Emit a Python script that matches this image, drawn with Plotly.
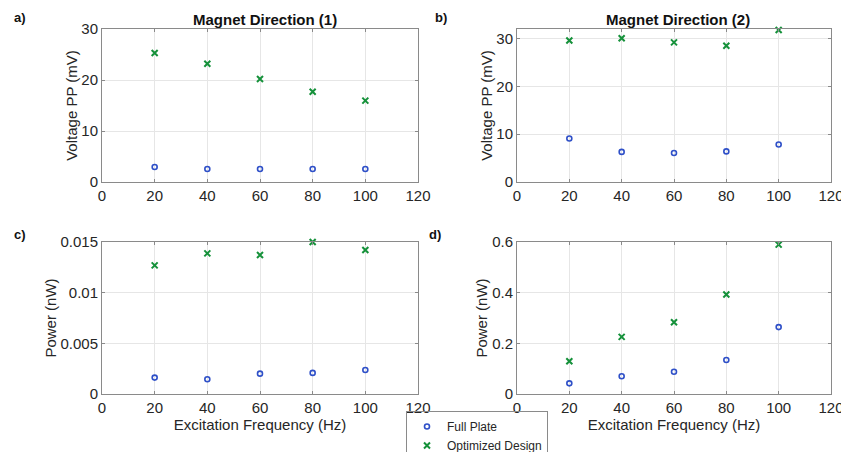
import plotly.graph_objects as go

freq = [20, 40, 60, 80, 100]
v1_full = [2.95, 2.55, 2.55, 2.55, 2.55]
v1_opt = [25.3, 23.2, 20.2, 17.7, 15.95]
v2_full = [9.1, 6.3, 6.05, 6.4, 7.85]
v2_opt = [29.6, 30.05, 29.2, 28.5, 31.8]
p1_full = [0.00162, 0.00145, 0.00201, 0.00208, 0.00237]
p1_opt = [0.01269, 0.01388, 0.01371, 0.01500, 0.01421]
p2_full = [0.042, 0.070, 0.088, 0.1345, 0.264]
p2_opt = [0.129, 0.2255, 0.2835, 0.393, 0.5895]

series_names = ["Full Plate", "Optimized Design"]
titles = ["Magnet Direction (1)", "Magnet Direction (2)"]
panel_labels = ["a)", "b)", "c)", "d)"]
x_ticks = [0, 20, 40, 60, 80, 100, 120]

BLUE = "#2f50c8"
GREEN = "#15913a"
FONT = "Liberation Sans, Arial, sans-serif"

fig = go.Figure()

panels = [
    ("x", "y", v1_full, v1_opt, True),
    ("x2", "y2", v2_full, v2_opt, False),
    ("x3", "y3", p1_full, p1_opt, False),
    ("x4", "y4", p2_full, p2_opt, False),
]
for xa, ya, full, opt, show in panels:
    fig.add_trace(go.Scatter(x=freq, y=full, mode="markers", name=series_names[0],
                             xaxis=xa, yaxis=ya, showlegend=show, cliponaxis=False,
                             marker=dict(symbol="circle-open", size=5, color=BLUE,
                                         line=dict(width=1.6, color=BLUE))))
    fig.add_trace(go.Scatter(x=freq, y=opt, mode="markers", name=series_names[1],
                             xaxis=xa, yaxis=ya, showlegend=show, cliponaxis=False,
                             marker=dict(symbol="x-thin-open", size=6, color=GREEN,
                                         line=dict(width=2, color=GREEN))))

W, H = 841, 452
xdom_l = [102 / W, 418 / W]
xdom_r = [517 / W, 831 / W]
ydom_t = [1 - 182 / H, 1 - 29 / H]
ydom_b = [1 - 394 / H, 1 - 242 / H]

axis_common = dict(showline=True, linecolor="#8a8a8a", linewidth=1, mirror="ticks",
                   ticks="inside", ticklen=3, tickcolor="#8a8a8a",
                   showgrid=True, gridcolor="#e6e6e6", gridwidth=1, zeroline=False,
                   automargin=False, ticklabeloverflow="allow",
                   tickfont=dict(family=FONT, size=15, color="#262626"))

def xaxis(dom, anchor, title=None):
    d = dict(axis_common, domain=dom, anchor=anchor, range=[0, 120],
             tickvals=x_ticks, ticktext=[str(t) for t in x_ticks])
    if title:
        d["title"] = dict(text=title, font=dict(family=FONT, size=15, color="#262626"), standoff=0)
    return d

def yaxis(dom, anchor, rng, tickvals, ticktext, title):
    return dict(axis_common, domain=dom, anchor=anchor, range=rng,
                tickvals=tickvals, ticktext=ticktext,
                title=dict(text=title, font=dict(family=FONT, size=15, color="#262626"),
                           standoff=0))

fig.update_layout(
    width=W, height=H, margin=dict(l=0, r=0, t=0, b=0, autoexpand=False),
    paper_bgcolor="white", plot_bgcolor="white",
    font=dict(family=FONT, color="#262626"),
    xaxis=xaxis(xdom_l, "y"),
    yaxis=yaxis(ydom_t, "x", [0, 30], [0, 10, 20, 30], ["0", "10", "20", "30"], "Voltage PP (mV)"),
    xaxis2=xaxis(xdom_r, "y2"),
    yaxis2=yaxis(ydom_t, "x2", [0, 32], [0, 10, 20, 30], ["0", "10", "20", "30"], "Voltage PP (mV)"),
    xaxis3=xaxis(xdom_l, "y3", "Excitation Frequency (Hz)"),
    yaxis3=yaxis(ydom_b, "x3", [0, 0.015], [0, 0.005, 0.01, 0.015], ["0", "0.005", "0.01", "0.015"], "Power (nW)"),
    xaxis4=xaxis(xdom_r, "y4", "Excitation Frequency (Hz)"),
    yaxis4=yaxis(ydom_b, "x4", [0, 0.6], [0, 0.2, 0.4, 0.6], ["0", "0.2", "0.4", "0.6"], "Power (nW)"),
    legend=dict(x=406 / W, y=1 - 411 / H, xanchor="left", yanchor="top",
                bgcolor="rgba(255,255,255,0)", bordercolor="#8a8a8a", borderwidth=1,
                font=dict(family=FONT, size=12, color="#262626"),
                tracegroupgap=0, itemwidth=30),
)

annotations = []
for txt, xc in zip(titles, [265, 678]):
    annotations.append(dict(text="<b>%s</b>" % txt, x=xc / W, y=1 - 19 / H, xref="paper", yref="paper",
                            showarrow=False, font=dict(family=FONT, size=15, color="#111"),
                            xanchor="center", yanchor="middle"))
for txt, (px, py) in zip(panel_labels, [(12, 18), (433, 18), (12, 234), (427, 234)]):
    annotations.append(dict(text="<b>%s</b>" % txt, x=px / W, y=1 - py / H, xref="paper", yref="paper",
                            showarrow=False, font=dict(family=FONT, size=13, color="#111"),
                            xanchor="left", yanchor="middle"))
fig.update_layout(annotations=annotations)

fig.write_html("out.html", config={"displayModeBar": False},
               post_script="document.body.style.margin='0';document.body.style.overflow='hidden';")
